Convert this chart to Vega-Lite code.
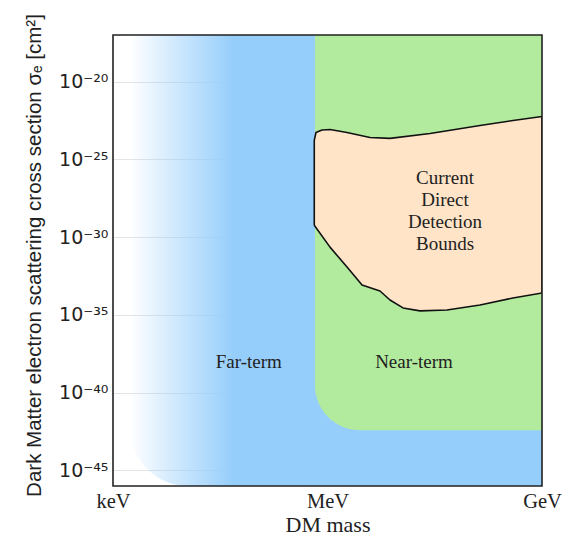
{
  "$schema": "https://vega.github.io/schema/vega-lite/v6.json",
  "width": 429,
  "height": 451,
  "autosize": "none",
  "padding": {"left": 113, "top": 35, "right": 26, "bottom": 54},
  "background": "white",
  "config": {"view": {"stroke": null}},
  "encoding": {
    "x": {
      "field": "m",
      "type": "quantitative",
      "title": "DM mass",
      "scale": {"type": "log", "domain": [1000, 1000000000], "nice": false},
      "axis": {
        "values": [1000, 1000000, 1000000000],
        "labelExpr": "datum.value < 10000 ? 'keV' : datum.value < 10000000 ? 'MeV' : 'GeV'",
        "labelFont": "Liberation Serif",
        "labelFontSize": 20.5,
        "labelColor": "#222",
        "labelPadding": 5,
        "labelFlush": false,
        "labelOverlap": false,
        "labelBound": false,
        "ticks": false,
        "domain": false,
        "grid": false,
        "titleFont": "Liberation Serif",
        "titleFontSize": 22,
        "titleFontWeight": "normal",
        "titleColor": "#222",
        "titlePadding": 3
      }
    },
    "y": {
      "field": "s",
      "type": "quantitative",
      "title": "Dark Matter electron scattering cross section  σₑ [cm²]",
      "scale": {"type": "log", "domain": [1e-46, 1e-17], "nice": false},
      "axis": {
        "values": [1e-45, 1e-40, 1e-35, 1e-30, 1e-25, 1e-20],
        "labelExpr": "datum.value < 1e-42 ? '10⁻⁴⁵' : datum.value < 1e-37 ? '10⁻⁴⁰' : datum.value < 1e-32 ? '10⁻³⁵' : datum.value < 1e-27 ? '10⁻³⁰' : datum.value < 1e-22 ? '10⁻²⁵' : '10⁻²⁰'",
        "labelFont": "DejaVu Sans",
        "labelFontSize": 19,
        "labelColor": "#222",
        "labelPadding": 5,
        "ticks": false,
        "domain": false,
        "grid": true,
        "gridColor": "#e4e4e4",
        "gridWidth": 1,
        "titleFont": "Liberation Sans",
        "titleFontSize": 20.5,
        "titleFontWeight": "normal",
        "titleColor": "#222",
        "titleX": -79,
        "titleY": 220,
        "titleBaseline": "middle"
      }
    }
  },
  "layer": [
    {
      "data": {"values": [{"region": "Far-term", "m": 1738, "m2": 1000000000, "s": 1e-46, "s2": 1e-17}]},
      "mark": {
        "type": "rect",
        "clip": true,
        "cornerRadiusBottomLeft": 58,
        "fill": {
          "gradient": "linear",
          "x1": 0, "y1": 0, "x2": 1, "y2": 0,
          "stops": [
            {"offset": 0, "color": "rgba(150,206,251,0)"},
            {"offset": 0.08, "color": "rgba(150,206,251,0.33)"},
            {"offset": 0.25, "color": "rgba(150,206,251,1)"},
            {"offset": 1, "color": "rgba(150,206,251,1)"}
          ]
        }
      },
      "encoding": {"x2": {"field": "m2"}, "y2": {"field": "s2"}}
    },
    {
      "data": {"values": [{"region": "Near-term", "m": 668000, "m2": 1000000000, "s": 3.8e-43, "s2": 1e-17}]},
      "mark": {"type": "rect", "clip": true, "cornerRadiusBottomLeft": 45, "fill": "#B3EB9E"},
      "encoding": {"x2": {"field": "m2"}, "y2": {"field": "s2"}}
    },
    {
      "data": {"values": [
        {"i": 0, "m": 653000, "s": 5.89e-30},
        {"i": 1, "m": 653000, "s": 1.66e-24},
        {"i": 2, "m": 690000, "s": 5.37e-24},
        {"i": 3, "m": 837000, "s": 7.76e-24},
        {"i": 4, "m": 1084000, "s": 8.32e-24},
        {"i": 5, "m": 1875000, "s": 5.37e-24},
        {"i": 6, "m": 3930000, "s": 2.57e-24},
        {"i": 7, "m": 7480000, "s": 2.24e-24},
        {"i": 8, "m": 27200000, "s": 4.68e-24},
        {"i": 9, "m": 135800000, "s": 1.51e-23},
        {"i": 10, "m": 393000000, "s": 3.16e-23},
        {"i": 11, "m": 1000000000, "s": 5.75e-23},
        {"i": 12, "m": 1000000000, "s": 2.57e-34},
        {"i": 13, "m": 393000000, "s": 1.23e-34},
        {"i": 14, "m": 135800000, "s": 4.37e-35},
        {"i": 15, "m": 46900000, "s": 2.09e-35},
        {"i": 16, "m": 19680000, "s": 1.82e-35},
        {"i": 17, "m": 11380000, "s": 2.82e-35},
        {"i": 18, "m": 7480000, "s": 9.12e-35},
        {"i": 19, "m": 5420000, "s": 3.47e-34},
        {"i": 20, "m": 3040000, "s": 8.32e-34},
        {"i": 21, "m": 1875000, "s": 1.2e-32},
        {"i": 22, "m": 1084000, "s": 2.29e-31},
        {"i": 23, "m": 653000, "s": 5.89e-30}
      ]},
      "mark": {"type": "line", "clip": true, "fill": "#FFE4C8", "stroke": "#111", "strokeWidth": 1.6, "strokeJoin": "round"},
      "encoding": {"order": {"field": "i", "type": "quantitative"}}
    },
    {
      "data": {"values": [
        {"label": "Far-term", "m": 79400, "s": 1e-38},
        {"label": "Near-term", "m": 16200000, "s": 1e-38},
        {"label": "Current\nDirect\nDetection\nBounds", "m": 44000000, "s": 6e-27}
      ]},
      "mark": {"type": "text", "font": "Liberation Serif", "fontSize": 19, "color": "#222", "lineBreak": "\n", "lineHeight": 21.7, "align": "center", "baseline": "middle"},
      "encoding": {"text": {"field": "label"}}
    },
    {
      "data": {"values": [{"m": 1000, "m2": 1000000000, "s": 1e-46, "s2": 1e-17}]},
      "mark": {"type": "rect", "fill": null, "filled": false, "stroke": "#222", "strokeWidth": 1.6},
      "encoding": {"x2": {"field": "m2"}, "y2": {"field": "s2"}}
    }
  ]
}
